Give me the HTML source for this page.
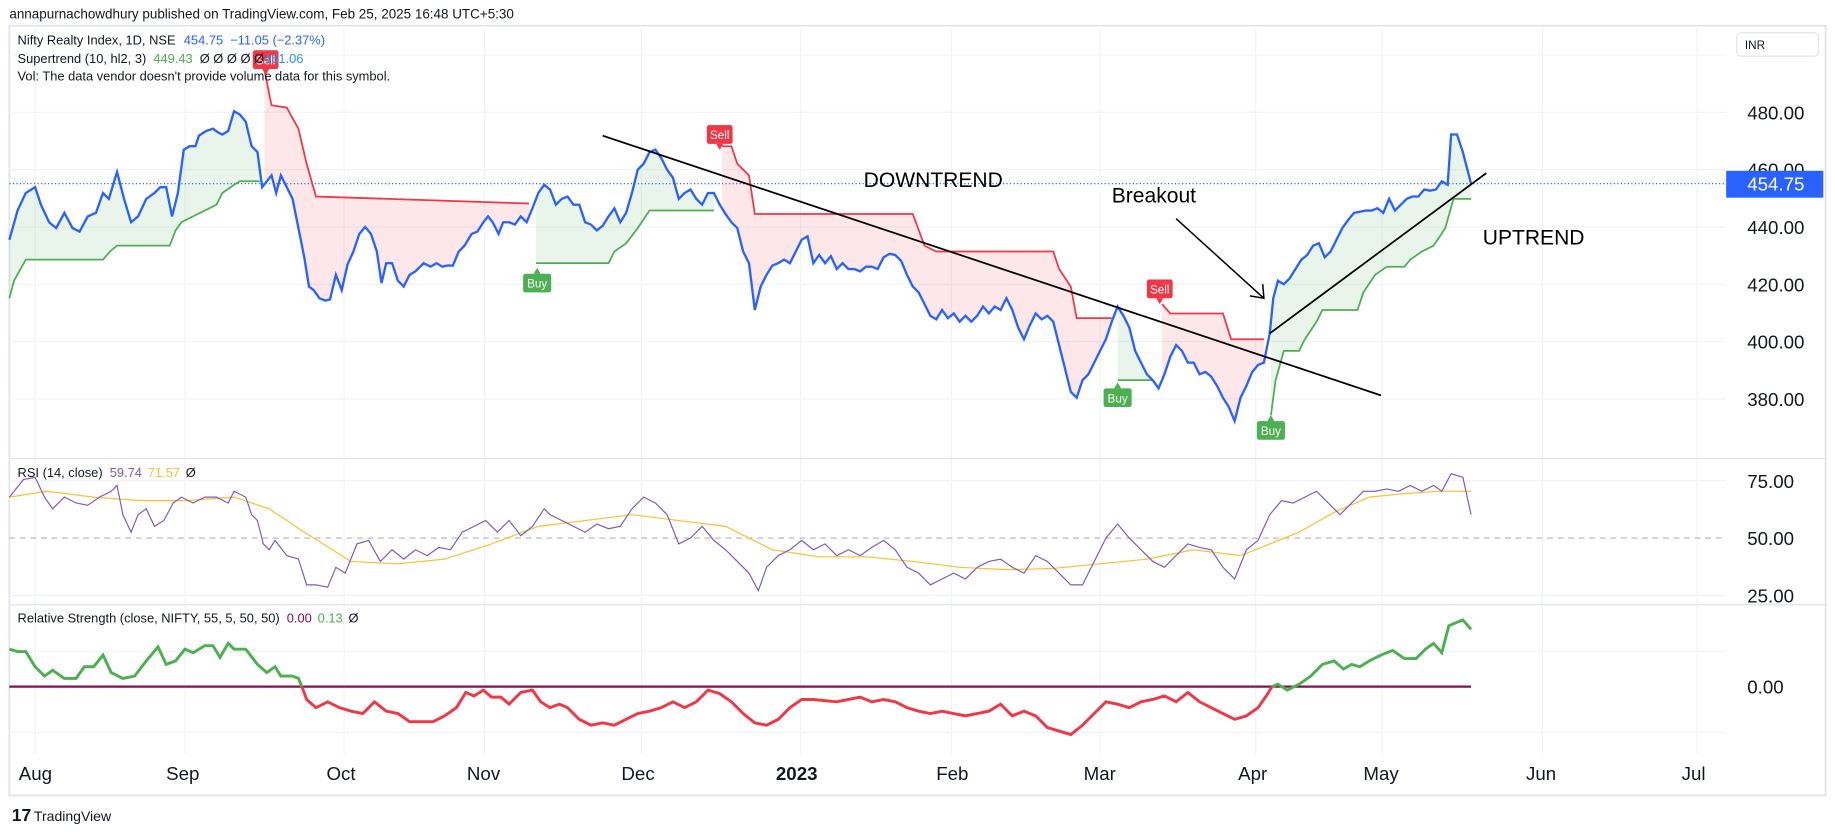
<!DOCTYPE html>
<html><head><meta charset="utf-8"><style>
html,body{margin:0;padding:0;background:#fff;}
svg{display:block;font-family:"Liberation Sans","DejaVu Sans",sans-serif;}
</style></head><body>
<svg id="s" width="1835" height="834" viewBox="0 0 1568 713" preserveAspectRatio="none" xmlns="http://www.w3.org/2000/svg">
<rect width="1568" height="713" fill="#fff"/>
<text x="8" y="16" font-size="11.5" fill="#131722">annapurnachowdhury published on TradingView.com, Feb 25, 2025 16:48 UTC+5:30</text>
<rect x="8" y="22" width="1552" height="658" fill="none" stroke="#e0e3eb" stroke-width="1.5"/>
<g id="grid" stroke="#f0f3fa" stroke-width="1"></g>
<line x1="8" y1="392" x2="1560" y2="392" stroke="#e0e3eb"/>
<line x1="8" y1="517" x2="1560" y2="517" stroke="#e0e3eb"/>
<line x1="8" y1="460" x2="1475" y2="460" stroke="#b2b5be" stroke-dasharray="5,4"/>
<line x1="8" y1="157" x2="1475" y2="157" stroke="#2962ff" stroke-dasharray="1,2" stroke-width="1"/>
<g id="fills"></g>
<g id="lines"></g>
<line x1="515" y1="116" x2="1180" y2="338" stroke="#000" stroke-width="1.5"/>
<line x1="1085" y1="285" x2="1270" y2="148" stroke="#000" stroke-width="1.5"/>
<line x1="1005" y1="187" x2="1080" y2="255" stroke="#000" stroke-width="1.3"/>
<polyline points="1068,253 1080,255 1079,243" fill="none" stroke="#000" stroke-width="1.3"/>
<text x="738" y="160" font-size="18" fill="#000">DOWNTREND</text>
<text x="950" y="173" font-size="18" fill="#000">Breakout</text>
<text x="1267" y="209" font-size="18" fill="#000">UPTREND</text>
<g id="labels"></g>
<g font-size="11" fill="#131722">
<text x="15" y="38">Nifty Realty Index, 1D, NSE <tspan fill="#2962ff" dx="4">454.75</tspan><tspan fill="#2962ff" dx="6">−11.05 (−2.37%)</tspan></text>
<text x="15" y="54">Supertrend (10, hl2, 3) <tspan fill="#4caf50" dx="3">449.43</tspan><tspan dx="6">Ø  Ø  Ø  Ø  Ø</tspan><tspan fill="#2196f3">461.06</tspan></text>
<text x="15" y="69">Vol: The data vendor doesn't provide volume data for this symbol.</text>
<text x="15" y="408">RSI (14, close) <tspan fill="#7e57c2" dx="3">59.74</tspan><tspan fill="#fbc02d" dx="5">71.57</tspan><tspan dx="5">Ø</tspan></text>
<text x="15" y="532">Relative Strength (close, NIFTY, 55, 5, 50, 50) <tspan fill="#880e4f" dx="3">0.00</tspan><tspan fill="#4caf50" dx="5">0.13</tspan><tspan dx="5">Ø</tspan></text>
</g>
<g font-size="16" fill="#131722">
<text x="1493" y="102">480.00</text><text x="1493" y="151">460.00</text><text x="1493" y="200">440.00</text>
<text x="1493" y="249">420.00</text><text x="1493" y="298">400.00</text><text x="1493" y="347">380.00</text>
<text x="1493" y="417">75.00</text><text x="1493" y="466">50.00</text><text x="1493" y="515">25.00</text>
<text x="1493" y="593">0.00</text>
</g>
<rect x="1475" y="146" width="83" height="23" fill="#2962ff"/>
<text x="1493" y="163" font-size="16" fill="#fff">454.75</text>
<rect x="1484" y="28" width="70" height="20" rx="4" fill="#fff" stroke="#e0e3eb"/>
<text x="1491" y="42" font-size="10" fill="#131722">INR</text>
<g font-size="16" fill="#131722">
<text x="16" y="667">Aug</text><text x="142" y="667">Sep</text><text x="279" y="667">Oct</text><text x="399" y="667">Nov</text>
<text x="531" y="667">Dec</text><text x="663" y="667" font-weight="bold">2023</text><text x="800" y="667">Feb</text>
<text x="926" y="667">Mar</text><text x="1058" y="667">Apr</text><text x="1165" y="667">May</text>
<text x="1304" y="667">Jun</text><text x="1437" y="667">Jul</text>
</g>
<text x="10" y="702" font-size="15" font-weight="bold" fill="#131722">17</text>
<text x="29" y="702" font-size="12" fill="#131722">TradingView</text>
</svg>
<script>
var NS="http://www.w3.org/2000/svg",svg=document.getElementById('s');
function el(p,t,a){var e=document.createElementNS(NS,t);for(var k in a)e.setAttribute(k,a[k]);document.getElementById(p).appendChild(e);return e;}
function P(s){var a=s.split(/\s+/).filter(Boolean).map(function(p){return p.split(',').map(Number)});return a;}
function str(a){return a.map(function(p){return p.join(',')}).join(' ')}
[47,96,145,194,243,292,341,411,509,557,626].forEach(function(y){el('grid','line',{x1:8,y1:y,x2:1475,y2:y});});
[30,158,294,414,548,684,813,940,1073,1181,1318,1450].forEach(function(x){el('grid','line',{x1:x,y1:22,x2:x,y2:645});});
var price=P("8,205 15,180 22,165 30,160 35,175 42,190 48,195 55,182 62,195 68,198 75,185 82,182 88,165 93,170 100,147 106,170 112,190 118,185 125,170 132,165 137,160 142,160 147,185 152,165 157,128 162,125 167,125 170,116 176,112 182,110 186,113 190,115 195,112 200,95 205,98 210,104 215,125 220,130 224,160 228,155 232,150 236,165 240,150 245,160 250,170 255,195 260,220 264,245 268,248 273,255 278,257 282,256 287,235 292,248 297,226 302,215 307,200 312,194 317,200 322,215 326,242 330,225 335,225 340,240 345,245 350,235 355,232 362,225 368,228 373,225 378,228 382,227 387,227 392,215 397,210 403,200 408,198 413,190 417,185 421,190 426,200 430,190 435,190 440,192 445,185 450,190 455,178 460,165 465,158 470,162 475,175 480,170 485,168 490,175 495,175 500,190 505,192 510,197 515,193 520,185 525,178 530,190 535,182 540,165 545,145 550,140 555,130 560,128 565,135 570,145 575,152 580,170 585,165 590,162 595,170 600,175 605,165 610,165 615,175 620,183 625,190 630,195 635,215 640,225 645,265 650,245 655,235 660,227 665,225 670,222 675,225 680,215 685,205 690,202 695,225 700,218 705,225 710,219 715,230 720,225 725,230 730,230 735,232 740,228 745,228 750,230 755,220 760,217 765,218 770,223 775,235 780,245 785,250 790,260 795,270 800,273 805,265 810,272 815,268 820,275 825,270 830,275 835,270 840,262 845,268 850,262 855,265 860,255 865,265 870,280 875,290 880,278 885,268 890,273 895,270 900,275 905,295 910,315 915,335 920,340 925,325 930,320 935,310 940,300 945,290 950,275 955,262 960,270 965,280 970,300 975,310 980,320 985,325 990,332 995,320 1000,305 1005,295 1010,300 1015,310 1020,310 1025,320 1030,318 1035,322 1040,330 1045,340 1050,348 1055,360 1060,340 1065,330 1070,318 1075,312 1080,310 1085,285 1088,255 1092,240 1097,243 1102,238 1107,230 1112,222 1117,218 1122,210 1127,208 1132,220 1137,215 1142,205 1147,195 1152,188 1157,182 1162,181 1167,180 1172,180 1177,178 1182,182 1187,170 1192,180 1197,175 1202,170 1207,168 1212,168 1217,162 1222,163 1227,162 1232,155 1237,158 1240,115 1245,115 1250,130 1257,157");
function pAt(x){for(var i=1;i<price.length;i++){if(price[i][0]>=x){var a=price[i-1],b=price[i],t=(x-a[0])/((b[0]-a[0])||1);return a[1]+t*(b[1]-a[1]);}}return price[price.length-1][1];}
var st=[
["g","8,255 12,240 22,222 88,222 94,215 100,210 145,210 150,197 155,190 165,185 175,180 185,175 190,165 200,158 205,155 222,155"],
["r","226,60 232,90 245,92 255,110 262,140 270,168 452,174"],
["g","458,225 520,225 525,215 535,208 545,195 555,180 610,180"],
["r","617,125 625,125 630,140 640,150 645,183 780,183 790,210 800,215 900,215 905,230 915,245 920,272 950,272"],
["g","955,325 985,325"],
["r","993,260 1000,268 1045,268 1052,290 1080,290"],
["g","1086,355 1090,325 1097,300 1110,300 1115,290 1125,275 1130,265 1160,265 1165,250 1175,235 1185,228 1200,228 1205,222 1215,215 1225,210 1235,195 1242,170 1257,170"]];
st.forEach(function(s){var pts=P(s[1]);var x0=pts[0][0],x1=pts[pts.length-1][0];var top=[];for(var x=x1;x>=x0;x-=1)top.push([x,pAt(x)]);
el('fills','polygon',{points:str(pts.concat(top)),fill:s[0]=="g"?"rgba(76,175,80,0.12)":"rgba(242,54,69,0.12)"});
el('lines','polyline',{points:str(pts),fill:"none",stroke:s[0]=="g"?"#4caf50":"#f23645","stroke-width":1.5});});
el('lines','polyline',{points:str(price),fill:"none",stroke:"#2962ff","stroke-width":2});
var rsi="8,425 20,410 30,408 38,425 45,435 55,425 65,430 75,432 85,425 95,420 100,415 105,440 112,455 118,440 125,435 132,450 140,445 148,430 155,425 165,430 175,425 185,425 195,430 200,420 210,425 215,440 220,445 225,465 230,470 235,462 245,475 255,478 262,500 270,500 280,502 287,485 295,490 305,465 315,462 325,480 335,470 345,478 355,470 365,475 375,468 385,470 395,455 405,450 415,445 425,455 435,445 445,458 455,450 465,435 470,440 480,445 490,450 500,455 510,448 520,452 530,450 540,435 550,425 560,430 570,440 580,465 590,460 600,450 610,462 620,470 630,480 640,490 648,505 655,485 665,475 675,470 685,462 695,470 705,465 715,475 725,470 735,475 745,468 755,462 765,470 775,485 785,490 795,500 805,495 815,490 825,495 835,485 845,480 855,478 865,485 875,490 885,475 895,480 905,490 915,500 925,500 935,480 945,460 955,448 965,460 975,470 985,480 995,485 1005,475 1015,465 1025,468 1035,470 1045,485 1055,495 1065,470 1075,462 1085,440 1095,428 1105,430 1115,425 1125,420 1135,430 1145,440 1155,430 1165,420 1175,420 1185,418 1195,420 1205,415 1215,420 1225,415 1232,420 1240,405 1250,408 1257,440";
var ma="8,425 40,420 80,425 120,428 160,428 200,425 230,435 260,455 300,480 340,482 380,478 420,465 460,450 500,445 540,440 580,445 620,450 660,470 700,476 740,476 780,480 820,485 860,487 900,486 940,482 980,478 1020,470 1060,475 1085,465 1110,455 1140,438 1170,425 1200,422 1230,420 1257,420";
el('lines','polyline',{points:ma,fill:"none",stroke:"#fbc02d","stroke-width":1});
el('lines','polyline',{points:rsi,fill:"none",stroke:"#7e57c2","stroke-width":1});
el('lines','line',{x1:8,y1:587,x2:1257,y2:587,stroke:"#880e4f","stroke-width":2});
el('lines','polyline',{points:"8,555 15,557 22,557 30,570 38,578 45,573 55,580 65,580 72,570 80,570 88,560 95,575 105,580 115,578 125,565 135,553 142,568 150,565 158,555 165,558 175,552 182,552 188,562 195,550 200,555 210,555 220,568 228,575 235,570 240,578 250,578 255,580 258,587",fill:"none",stroke:"#4caf50","stroke-width":2.5});
el('lines','polyline',{points:"258,587 262,598 270,605 280,600 290,605 300,608 310,610 320,600 330,608 340,610 350,617 360,617 370,617 380,612 390,605 398,592 405,595 413,590 420,596 428,596 435,602 445,592 455,590 462,600 470,605 478,602 485,605 495,615 505,620 515,618 525,620 535,615 545,610 555,608 565,605 575,600 585,605 595,600 605,590 615,593 625,600 635,610 645,618 655,620 665,615 675,605 685,598 695,598 705,599 715,600 725,598 735,596 745,600 755,598 765,600 775,605 785,608 795,610 805,608 815,610 825,612 835,610 845,608 855,602 865,612 875,608 885,612 895,622 905,625 915,628 925,620 935,610 945,600 955,602 965,605 975,600 985,598 995,595 1005,600 1015,592 1025,600 1035,605 1045,610 1055,615 1065,612 1075,605 1082,595 1087,587",fill:"none",stroke:"#f23645","stroke-width":2.5});
el('lines','polyline',{points:"1087,587 1092,585 1100,590 1110,585 1120,578 1130,568 1140,565 1148,572 1155,568 1162,570 1170,565 1180,560 1190,556 1200,563 1210,563 1218,555 1225,550 1232,558 1238,535 1245,532 1250,530 1257,538",fill:"none",stroke:"#4caf50","stroke-width":2.5});
function lab(x,y,t,c,up){var w=t=="Buy"?24:22;
 if(up){el('labels','polygon',{points:(x-3)+","+(y-8)+" "+x+","+(y-13)+" "+(x+3)+","+(y-8),fill:c});}
 else{el('labels','polygon',{points:(x-3)+","+(y+8)+" "+x+","+(y+13)+" "+(x+3)+","+(y+8),fill:c});}
 el('labels','rect',{x:x-w/2,y:y-8,width:w,height:16,rx:2,fill:c});
 var tx=el('labels','text',{x:x,y:y+4,"font-size":10,fill:"#fff","text-anchor":"middle"});tx.textContent=t;}
lab(227,51,"Sell","#f23645",false);lab(615,115,"Sell","#f23645",false);lab(991,247,"Sell","#f23645",false);
lab(459,242,"Buy","#4caf50",true);lab(955,340,"Buy","#4caf50",true);lab(1086,368,"Buy","#4caf50",true);
</script>
</body></html>
